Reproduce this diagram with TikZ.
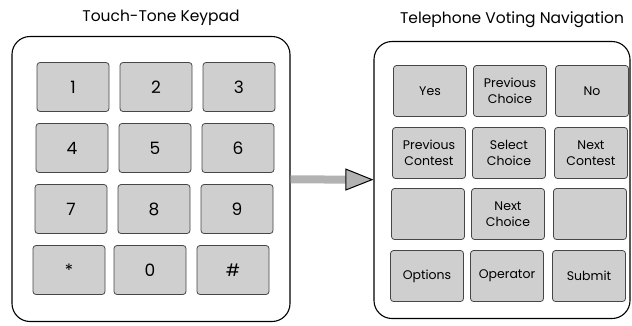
\documentclass[tikz,border=0pt]{standalone}
\usepackage{fontspec}
\setmainfont{Poppins}
\usepackage{tikz}
\usetikzlibrary{arrows.meta}

\begin{document}
\begin{tikzpicture}[x=1pt, y=-1pt,
	pad/.style={shape=rectangle, rounded corners=3pt, draw=gray!55!black, fill=gray!38, line width=0.8pt, minimum width=72pt, minimum height=49pt, inner sep=1pt, align=center, font=\fontsize{17}{18}\selectfont},
	vpad/.style={pad, minimum width=73pt, minimum height=51pt, font=\fontsize{12.5}{16}\selectfont},
	frame/.style={shape=rectangle, rounded corners=18pt, draw=black, line width=1.1pt},
	title/.style={font=\fontsize{15.5}{17}\selectfont}]
	
	\useasboundingbox (0, 0) rectangle (632, 325);
	
	\node[title] (ta) at (161, 18)   {Touch-Tone Keypad};
	\node[title] (tb) at (512, 20)   {Telephone Voting Navigation};
	
	\node[frame, minimum width=278pt, minimum height=285pt] (kl) at (151, 179)  {};
	\node[frame, minimum width=256pt, minimum height=277pt] (kr) at (502, 180)  {};
	
	\node[pad] (k1) at (73, 87)     {1};
	\node[pad] (k2) at (156, 87)    {2};
	\node[pad] (k3) at (239, 87)    {3};
	
	\node[pad] (k4) at (72, 148)    {4};
	\node[pad] (k5) at (155, 148)   {5};
	\node[pad] (k6) at (238, 148)   {6};
	
	\node[pad] (k7) at (71, 209)    {7};
	\node[pad] (k8) at (154, 209)   {8};
	\node[pad] (k9) at (237, 209)   {9};
	
	\node[pad] (ks) at (69, 270)    {*};
	\node[pad] (k0) at (150, 270)   {0};
	\node[pad] (kh) at (233, 270)   {\#};
	
	\node[vpad] (yes) at (430, 91)  {Yes};
	\node[vpad] (pch) at (510, 91)  {Previous\\Choice};
	\node[vpad] (no)  at (592, 91)  {No};
	
	\node[vpad] (pco) at (429, 153) {Previous\\Contest};
	\node[vpad] (sch) at (509, 153) {Select\\Choice};
	\node[vpad] (nco) at (591, 153) {Next\\Contest};
	
	\node[vpad] (ea)  at (428, 214) {};
	\node[vpad] (nch) at (508, 214) {Next\\Choice};
	\node[vpad] (eb)  at (590, 214) {};
	
	\node[vpad] (opt) at (427, 276) {Options};
	\node[vpad] (opr) at (507, 276) {Operator};
	\node[vpad] (sub) at (589, 276) {Submit};
	
	\path[-{Triangle[length=28pt, width=22pt, line width=1pt, black, fill=gray!60]}, line width=8pt, draw=gray!60] (kl) edge (kr);
	
\end{tikzpicture}
\end{document}
